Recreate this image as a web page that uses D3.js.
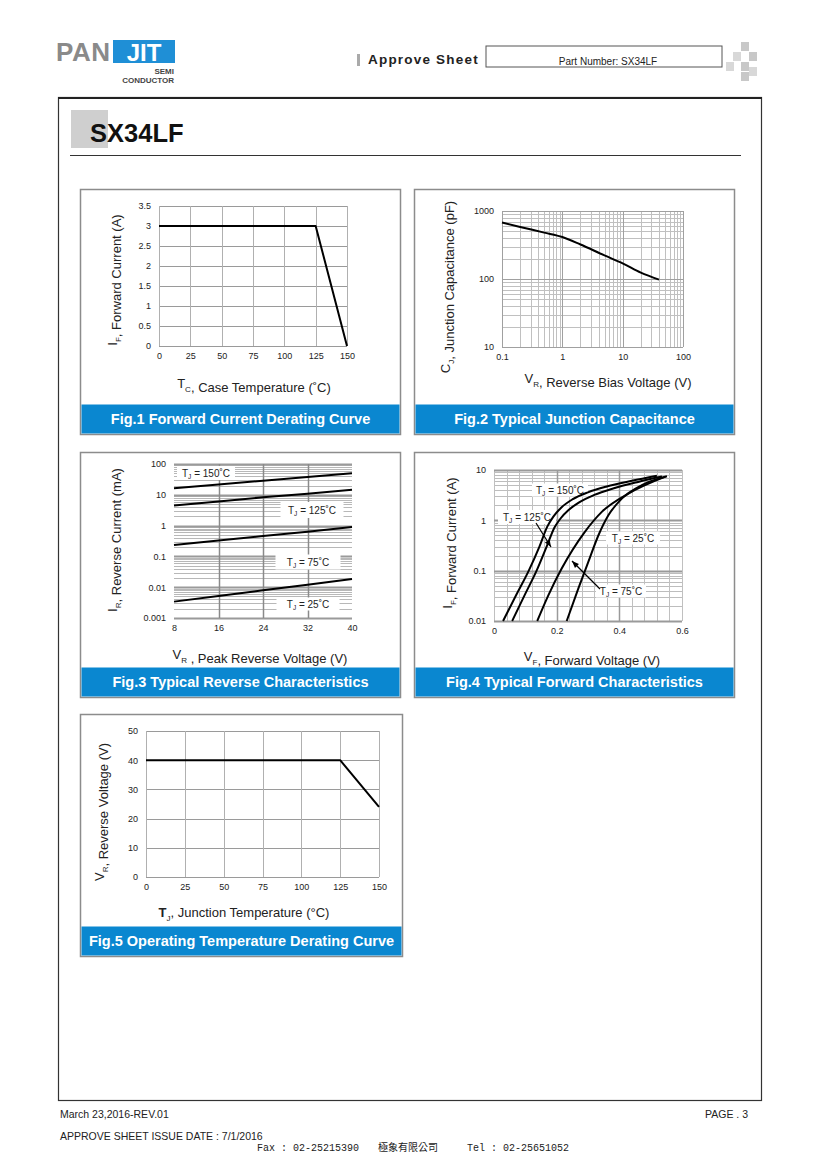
<!DOCTYPE html>
<html><head><meta charset="utf-8">
<script src="https://cdn.jsdelivr.net/npm/d3@7/dist/d3.min.js"></script>
<style>
html,body{margin:0;padding:0;background:#fff;}
svg{display:block;font-family:"Liberation Sans",Arial,sans-serif;}
</style></head>
<body>
<svg id="c" width="820" height="1160"></svg>
<script>
// ---------- DATA ----------
const fig1Temp = [0, 125, 150];
const fig1Current = [3, 3, 0];
const fig1XTicks = [0, 25, 50, 75, 100, 125, 150];
const fig1YTicks = [0, 0.5, 1, 1.5, 2, 2.5, 3, 3.5];

const fig2Voltage = [0.1, 0.2, 0.5, 1, 2, 5, 10, 20, 40];
const fig2Cap = [676, 583, 481, 415, 322, 222, 170, 124, 98];
const fig2XTicks = [0.1, 1, 10, 100];
const fig2YTicks = [10, 100, 1000];

const fig3Voltage = [8, 16, 24, 32, 40];
const fig3Ir150 = [16.2, 21.5, 28.8, 37.8, 50];
const fig3Ir125 = [4.5, 6.1, 8.3, 10.9, 14.7];
const fig3Ir75 = [0.234, 0.33, 0.46, 0.635, 0.9];
const fig3Ir25 = [0.0034, 0.0052, 0.0079, 0.0121, 0.0184];
const fig3XTicks = [8, 16, 24, 32, 40];
const fig3YTicks = [0.001, 0.01, 0.1, 1, 10, 100];
const fig3YLabels = ["0.001", "0.01", "0.1", "1", "10", "100"];

const fig4V150 = [0.029, 0.07, 0.111, 0.145, 0.17, 0.19, 0.215, 0.25, 0.3, 0.36, 0.44, 0.52];
const fig4I150 = [0.01, 0.032, 0.1, 0.3, 0.75, 1.2, 1.8, 2.6, 3.6, 4.7, 6.1, 7.7];
const fig4V125 = [0.058, 0.097, 0.136, 0.168, 0.193, 0.213, 0.238, 0.273, 0.32, 0.38, 0.46, 0.536];
const fig4I125 = [0.01, 0.032, 0.1, 0.3, 0.72, 1.1, 1.6, 2.3, 3.2, 4.3, 5.8, 7.4];
const fig4V75 = [0.138, 0.173, 0.216, 0.29, 0.344, 0.429, 0.547];
const fig4I75 = [0.01, 0.032, 0.11, 0.59, 1.47, 3.4, 7.4];
const fig4V25 = [0.232, 0.269, 0.301, 0.333, 0.365, 0.408, 0.472, 0.552];
const fig4I25 = [0.01, 0.044, 0.149, 0.5, 1.26, 2.7, 5.0, 7.5];
const fig4XTicks = [0, 0.2, 0.4, 0.6];
const fig4YTicks = [0.01, 0.1, 1, 10];
const fig4YLabels = ["0.01", "0.1", "1", "10"];

const fig5Temp = [0, 125, 150];
const fig5Volt = [40, 40, 24];
const fig5XTicks = [0, 25, 50, 75, 100, 125, 150];
const fig5YTicks = [0, 10, 20, 30, 40, 50];

const captions = ["Fig.1 Forward Current Derating Curve", "Fig.2 Typical Junction Capacitance",
  "Fig.3 Typical Reverse Characteristics", "Fig.4 Typical Forward Characteristics",
  "Fig.5 Operating Temperature Derating Curve"];

// ---------- DRAW ----------
const svg = d3.select("#c");
const BLUE = "#0a87d0";

// Header
svg.append("text").attr("x", 56).attr("y", 61).attr("font-size", 26).attr("font-weight", "bold")
  .attr("fill", "#8a8a8a").attr("letter-spacing", 0.5).text("PAN");
svg.append("rect").attr("x", 113).attr("y", 40).attr("width", 62).attr("height", 23).attr("fill", "#1f8fd6");
svg.append("text").attr("x", 144).attr("y", 61).attr("font-size", 24).attr("font-weight", "bold")
  .attr("fill", "#fff").attr("text-anchor", "middle").text("JIT");
svg.append("text").attr("x", 174).attr("y", 74).attr("font-size", 8).attr("font-weight", "bold")
  .attr("fill", "#444").attr("text-anchor", "end").text("SEMI");
svg.append("text").attr("x", 174).attr("y", 83).attr("font-size", 8).attr("font-weight", "bold")
  .attr("fill", "#444").attr("text-anchor", "end").text("CONDUCTOR");
svg.append("rect").attr("x", 357).attr("y", 54).attr("width", 3).attr("height", 12).attr("fill", "#aaa");
svg.append("text").attr("x", 368).attr("y", 64).attr("font-size", 13.5).attr("font-weight", "bold")
  .attr("letter-spacing", 1.2).attr("fill", "#222").text("Approve Sheet");
svg.append("rect").attr("x", 486).attr("y", 46).attr("width", 236).attr("height", 21)
  .attr("fill", "none").attr("stroke", "#555").attr("stroke-width", 1);
svg.append("text").attr("x", 608).attr("y", 65).attr("font-size", 10).attr("text-anchor", "middle")
  .attr("fill", "#222").text("Part Number: SX34LF");
[[741, 42], [733, 52], [749, 52], [726, 62], [741, 62], [749, 67], [741, 72]].forEach((p, i) => {
  svg.append("rect").attr("x", p[0]).attr("y", p[1]).attr("width", 8).attr("height", 9)
    .attr("fill", i % 2 ? "#d8d8d8" : "#c8c8c8");
});

// Main frame
svg.append("rect").attr("x", 58.5).attr("y", 97.5).attr("width", 703).attr("height", 1003)
  .attr("fill", "none").attr("stroke", "#333").attr("stroke-width", 1.2);
svg.append("line").attr("x1", 58).attr("x2", 762).attr("y1", 98).attr("y2", 98).attr("stroke", "#222").attr("stroke-width", 2);
svg.append("rect").attr("x", 71).attr("y", 110).attr("width", 37).attr("height", 38).attr("fill", "#cfcfcf");
svg.append("text").attr("x", 90).attr("y", 142).attr("font-size", 25.5).attr("font-weight", "bold")
  .attr("fill", "#111").text("SX34LF");
svg.append("line").attr("x1", 70).attr("x2", 741).attr("y1", 155.5).attr("y2", 155.5).attr("stroke", "#333").attr("stroke-width", 1.2);

// Footer
svg.append("text").attr("x", 60).attr("y", 1118).attr("font-size", 10.5).attr("fill", "#222").text("March 23,2016-REV.01");
svg.append("text").attr("x", 748).attr("y", 1118).attr("font-size", 10.5).attr("fill", "#222").attr("text-anchor", "end").text("PAGE . 3");
svg.append("text").attr("x", 60).attr("y", 1140).attr("font-size", 10.5).attr("fill", "#222").text("APPROVE SHEET ISSUE DATE : 7/1/2016");
const ft = svg.append("text").attr("y", 1151).attr("font-size", 10).attr("fill", "#222")
  .attr("font-family", "'Liberation Mono','DejaVu Sans Mono',monospace");
ft.append("tspan").attr("x", 257).text("Fax : 02-25215390");
ft.append("tspan").attr("x", 378).attr("font-family", "'Noto Sans CJK TC',sans-serif").text("極象有限公司");
ft.append("tspan").attr("x", 467).text("Tel : 02-25651052");

// Panel helpers
function panel(p, cap) {
  svg.append("rect").attr("x", p.x + 0.5).attr("y", p.y + 0.5).attr("width", p.w).attr("height", p.h)
    .attr("fill", "#fff").attr("stroke", "#8c8c8c").attr("stroke-width", 1.5);
  svg.append("rect").attr("x", p.x + 1.5).attr("y", p.y + p.h - 29.5).attr("width", p.w - 2).attr("height", 29)
    .attr("fill", BLUE);
  svg.append("text").attr("x", p.x + p.w / 2 + 0.5).attr("y", p.y + p.h - 10).attr("text-anchor", "middle")
    .attr("font-size", 14.5).attr("font-weight", "bold").attr("fill", "#fff").text(cap);
}
function subText(g, x, y, parts, size, rotate) {
  const t = g.append("text").attr("x", x).attr("y", y).attr("text-anchor", "middle")
    .attr("font-size", size).attr("fill", "#222");
  if (rotate) t.attr("transform", `rotate(-90,${x},${y})`);
  parts.forEach(pt => {
    if (pt.sub) {
      t.append("tspan").attr("font-size", size * 0.62).attr("dy", size * 0.3).text(pt.sub);
      t.append("tspan").attr("dy", -size * 0.3).text("");
    } else t.append("tspan").text(pt.t);
  });
  return t;
}
function hLines(x, ys, vals, color, w) {
  svg.append("g").selectAll("line").data(vals).join("line")
    .attr("x1", x.range()[0]).attr("x2", x.range()[1])
    .attr("y1", d => Math.round(ys(d)) + 0.5).attr("y2", d => Math.round(ys(d)) + 0.5)
    .attr("stroke", color).attr("stroke-width", w);
}
function vLines(xs, y, vals, color, w) {
  svg.append("g").selectAll("line").data(vals).join("line")
    .attr("y1", y.range()[0]).attr("y2", y.range()[1])
    .attr("x1", d => Math.round(xs(d)) + 0.5).attr("x2", d => Math.round(xs(d)) + 0.5)
    .attr("stroke", color).attr("stroke-width", w);
}
function axes(x, y, xt, xl, yt, yl) {
  const ax = svg.append("g").attr("transform", `translate(0,${y.range()[0] + 4})`)
    .call(d3.axisBottom(x).tickValues(xt).tickSize(0).tickFormat((d, i) => xl[i]));
  ax.select(".domain").remove();
  ax.selectAll("text").attr("font-size", 9).attr("fill", "#222").attr("font-family", "'Liberation Sans',Arial,sans-serif");
  const ay = svg.append("g").attr("transform", `translate(${x.range()[0] - 5},0)`)
    .call(d3.axisLeft(y).tickValues(yt).tickSize(0).tickFormat((d, i) => yl[i]));
  ay.select(".domain").remove();
  ay.selectAll("text").attr("font-size", 9).attr("fill", "#222").attr("font-family", "'Liberation Sans',Arial,sans-serif");
}
function curve(x, y, xs, ys, c) {
  svg.append("path").datum(xs.map((v, i) => [v, ys[i]]))
    .attr("d", d3.line().x(d => x(d[0])).y(d => y(d[1])).curve(c || d3.curveLinear))
    .attr("fill", "none").attr("stroke", "#000").attr("stroke-width", 2).attr("stroke-linejoin", "round");
}
function logMinors(domain) {
  const out = [];
  for (let e = Math.log10(domain[0]); e < Math.log10(domain[1]) - 1e-9; e++)
    for (let k = 2; k <= 9; k++) out.push(k * Math.pow(10, e));
  return out;
}
function tjLabel(cx, cy, w, h, temp) {
  svg.append("rect").attr("x", cx - w / 2).attr("y", cy - h / 2).attr("width", w).attr("height", h).attr("fill", "#fff");
  const t = svg.append("text").attr("x", cx).attr("y", cy + 3.5).attr("text-anchor", "middle").attr("font-size", 10).attr("fill", "#222");
  t.append("tspan").text("T");
  t.append("tspan").attr("font-size", 6.5).attr("dy", 2).text("J");
  t.append("tspan").attr("dy", -2).text(" = " + temp + "˚C");
}
function arrow(x1, y1, x2, y2) {
  svg.append("line").attr("x1", x1).attr("y1", y1).attr("x2", x2).attr("y2", y2).attr("stroke", "#000").attr("stroke-width", 1.2);
  const a = Math.atan2(y2 - y1, x2 - x1), L = 7, W = 2.8;
  const bx = x2 - L * Math.cos(a), by = y2 - L * Math.sin(a);
  svg.append("path").attr("d", `M${x2},${y2}L${bx - W * Math.sin(a)},${by + W * Math.cos(a)}L${bx + W * Math.sin(a)},${by - W * Math.cos(a)}Z`).attr("fill", "#000");
}

// ---------- Fig 1 ----------
{
  const p = {x: 80, y: 189, w: 320, h: 245};
  panel(p, captions[0]);
  const x = d3.scaleLinear().domain([0, 150]).range([159, 347]);
  const y = d3.scaleLinear().domain([0, 3.5]).range([346, 206]);
  hLines(x, y, fig1YTicks, "#9a9a9a", 1);
  vLines(x, y, fig1XTicks, "#b0b0b0", 1);
  axes(x, y, fig1XTicks, fig1XTicks.map(String), fig1YTicks, fig1YTicks.map(String));
  curve(x, y, fig1Temp, fig1Current);
  subText(svg, 117, 280, [{t: "I"}, {sub: "F"}, {t: ", Forward Current (A)"}], 13, true);
  subText(svg, 254, 388, [{t: "T"}, {sub: "C"}, {t: ", Case Temperature  (˚C)"}], 13, false);
}
// ---------- Fig 2 ----------
{
  const p = {x: 414, y: 189, w: 320, h: 245};
  panel(p, captions[1]);
  const x = d3.scaleLog().domain([0.1, 100]).range([502, 683]);
  const y = d3.scaleLog().domain([10, 1000]).range([347, 211]);
  hLines(x, y, logMinors([10, 1000]), "#c0c0c0", 1);
  vLines(x, y, logMinors([0.1, 100]), "#c0c0c0", 1);
  hLines(x, y, fig2YTicks, "#a0a0a0", 1);
  vLines(x, y, fig2XTicks, "#a0a0a0", 1);
  axes(x, y, fig2XTicks, ["0.1", "1", "10", "100"], fig2YTicks, ["10", "100", "1000"]);
  curve(x, y, fig2Voltage, fig2Cap, d3.curveMonotoneX);
  subText(svg, 450, 287, [{t: "C"}, {sub: "J"}, {t: ", Junction Capacitance (pF)"}], 13, true);
  subText(svg, 608, 383, [{t: "V"}, {sub: "R"}, {t: ", Reverse Bias Voltage (V)"}], 13, false);
}
// ---------- Fig 3 ----------
{
  const p = {x: 80, y: 452, w: 320, h: 245};
  panel(p, captions[2]);
  const x = d3.scaleLinear().domain([8, 40]).range([174, 352]);
  const y = d3.scaleLog().domain([0.001, 100]).range([618, 464]);
  hLines(x, y, logMinors([0.001, 100]), "#b8b8b8", 1);
  hLines(x, y, fig3YTicks, "#9a9a9a", 2);
  vLines(x, y, [16, 24, 32], "#8a8a8a", 1.5);
  axes(x, y, fig3XTicks, fig3XTicks.map(String), fig3YTicks, fig3YLabels);
  tjLabel(206, 473, 58, 14, 150);
  tjLabel(312, 510, 63, 16, 125);
  tjLabel(308, 562, 65, 15, 75);
  tjLabel(308, 604, 63, 13, 25);
  [fig3Ir150, fig3Ir125, fig3Ir75, fig3Ir25].forEach(s => curve(x, y, fig3Voltage, s));
  subText(svg, 117, 540, [{t: "I"}, {sub: "R"}, {t: ", Reverse Current (mA)"}], 13, true);
  subText(svg, 260, 659, [{t: "V"}, {sub: "R"}, {t: " , Peak Reverse Voltage (V)"}], 13, false);
}
// ---------- Fig 4 ----------
{
  const p = {x: 414, y: 452, w: 320, h: 245};
  panel(p, captions[3]);
  const x = d3.scaleLinear().domain([0, 0.6]).range([494, 682]);
  const y = d3.scaleLog().domain([0.01, 10]).range([621, 470]);
  hLines(x, y, logMinors([0.01, 10]), "#bdbdbd", 1);
  vLines(x, y, d3.range(0, 0.6001, 0.04), "#c0c0c0", 1);
  hLines(x, y, fig4YTicks, "#9a9a9a", 2);
  vLines(x, y, [0.2, 0.4], "#9a9a9a", 1.5);
  axes(x, y, fig4XTicks, ["0", "0.2", "0.4", "0.6"], fig4YTicks, fig4YLabels);
  tjLabel(560, 490, 56, 13, 150);
  tjLabel(527, 517, 58, 14, 125);
  tjLabel(633, 538, 54, 13, 25);
  tjLabel(621, 591, 50, 13, 75);
  const cm = d3.curveMonotoneX;
  curve(x, y, fig4V150, fig4I150, cm);
  curve(x, y, fig4V125, fig4I125, cm);
  curve(x, y, fig4V75, fig4I75, cm);
  curve(x, y, fig4V25, fig4I25, cm);
  arrow(536, 523, 551, 547);
  arrow(600, 589, 572, 561);
  subText(svg, 452, 543, [{t: "I"}, {sub: "F"}, {t: ", Forward Current (A)"}], 13, true);
  subText(svg, 592, 661, [{t: "V"}, {sub: "F"}, {t: ", Forward Voltage (V)"}], 13, false);
}
// ---------- Fig 5 ----------
{
  const p = {x: 80, y: 714, w: 322, h: 242};
  panel(p, captions[4]);
  const x = d3.scaleLinear().domain([0, 150]).range([146, 379]);
  const y = d3.scaleLinear().domain([0, 50]).range([877, 731]);
  hLines(x, y, fig5YTicks, "#9a9a9a", 1);
  vLines(x, y, fig5XTicks, "#b0b0b0", 1);
  axes(x, y, fig5XTicks, fig5XTicks.map(String), fig5YTicks, fig5YTicks.map(String));
  curve(x, y, fig5Temp, fig5Volt);
  subText(svg, 104, 812, [{t: "V"}, {sub: "R"}, {t: ", Reverse Voltage (V)"}], 13, true);
  const t = svg.append("text").attr("x", 244).attr("y", 917).attr("text-anchor", "middle").attr("font-size", 13).attr("fill", "#222");
  t.append("tspan").attr("font-weight", "bold").text("T");
  t.append("tspan").attr("font-size", 8).attr("dy", 3.9).text("J");
  t.append("tspan").attr("dy", -3.9).text(", Junction Temperature  (°C)");
}
</script>
</body></html>
